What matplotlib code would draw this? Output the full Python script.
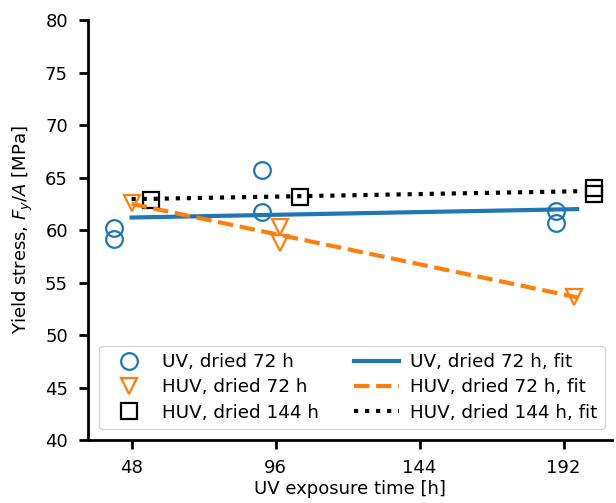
import numpy as np
import matplotlib.pyplot as plt

# UV, dried 72 h
uv72_t = [42, 42, 91.5, 91.5, 189.5, 189.5]
uv72_s = [60.2, 59.2, 65.7, 61.7, 61.8, 60.7]

# HUV, dried 72 h
huv72_t = [48, 97.5, 97.5, 195.5]
huv72_s = [62.6, 60.3, 58.8, 53.6]

# HUV, dried 144 h
huv144_t = [54.5, 104, 202, 202]
huv144_s = [62.9, 63.2, 64.0, 63.4]

# fit lines (end points)
fit_t = [48, 196.5]
uv72_fit = [61.2, 62.0]
huv72_fit = [62.5, 53.6]
huv144_fit = [62.95, 63.7]

plt.rcParams['font.size'] = 13

fig = plt.figure(figsize=(6.16, 5.03), dpi=100)
ax = fig.add_axes([0.143, 0.125, 0.85, 0.835])

ax.plot(uv72_t, uv72_s, 'o', ms=12, mfc='none', mec='C0', mew=1.6, label='UV, dried 72 h')
ax.plot(huv72_t, huv72_s, 'v', ms=12, mfc='none', mec='C1', mew=1.6, label='HUV, dried 72 h')
ax.plot(huv144_t, huv144_s, 's', ms=12, mfc='none', mec='k', mew=1.6, label='HUV, dried 144 h')

ax.plot(fit_t, uv72_fit, '-', color='C0', lw=3, label='UV, dried 72 h, fit')
ax.plot(fit_t, huv72_fit, '--', color='C1', lw=3, label='HUV, dried 72 h, fit')
ax.plot(fit_t, huv144_fit, ':', color='k', lw=3, label='HUV, dried 144 h, fit')

ax.set_xlim(33.5, 208)
ax.set_ylim(40, 80)
ax.set_xticks([48, 96, 144, 192])
ax.set_yticks(np.arange(40, 81, 5))
ax.set_xlabel('UV exposure time [h]', labelpad=2.5)
ax.set_ylabel('Yield stress, $F_y/A$ [MPa]', labelpad=7)

for s in ['top', 'right']:
    ax.spines[s].set_visible(False)
for s in ['left', 'bottom']:
    ax.spines[s].set_linewidth(2)
ax.tick_params(axis='y', width=2, length=6.5, pad=8)
ax.tick_params(axis='x', width=2, length=6.5, pad=7)

ax.legend(ncol=2, loc='lower left', fontsize=13.2, handlelength=2.45, handletextpad=0.6,
          columnspacing=1.9, labelspacing=0.4, borderaxespad=0.6)

fig.savefig('out.png')
